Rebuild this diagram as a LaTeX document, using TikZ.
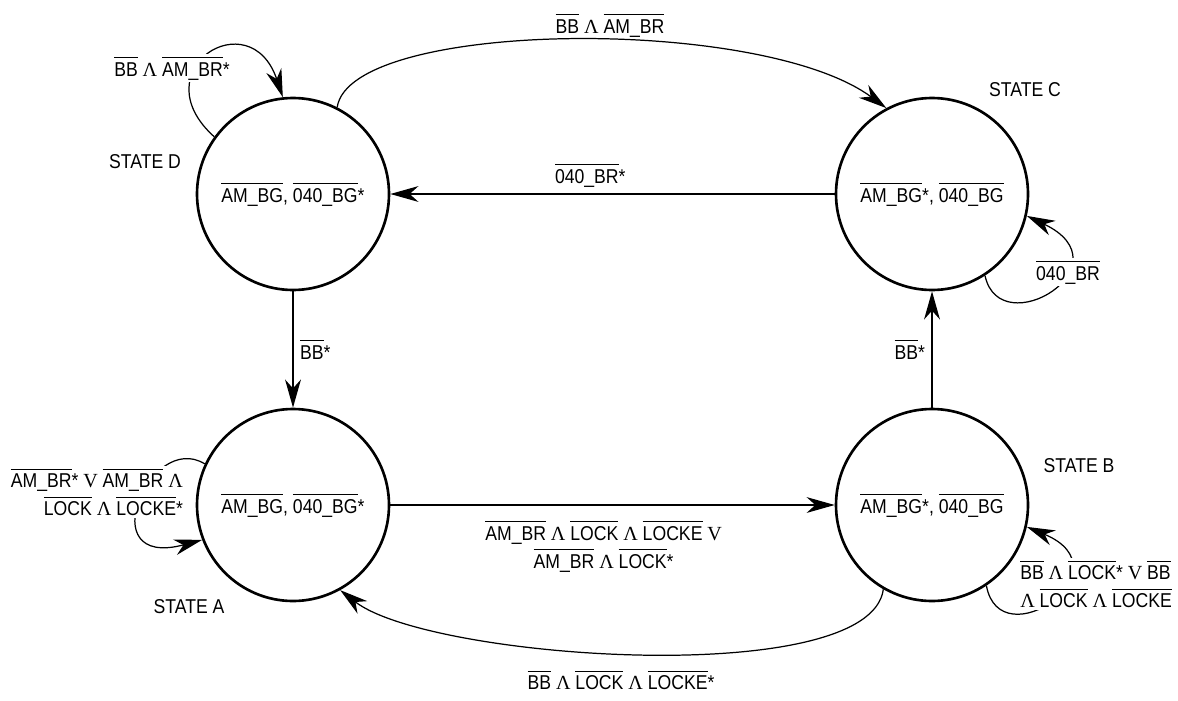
\documentclass[tikz,border=0pt]{standalone}
\usepackage{fontspec}
\setmainfont[FakeStretch=0.88]{Liberation Sans}
\newfontfamily\symserif{Liberation Serif}
\usetikzlibrary{arrows.meta}

\newcommand{\ovl}[1]{$\overline{\mbox{\rule{0pt}{9.4pt}#1}}$}
\newcommand{\andop}{{\symserif Λ}}
\newcommand{\orop}{{\symserif V}}

\tikzset{
  state/.style={circle, draw, line width=1.5pt, minimum size=3.84cm, inner sep=0pt},
  head/.style={-{Stealth[length=16pt,width=9pt,inset=5pt]}},
  thinarc/.style={head, line width=0.7pt},
  thickarc/.style={head, line width=1.3pt},
  cond/.style={fill=white, inner sep=1pt},
}

\begin{document}
\begin{tikzpicture}[every node/.style={font=\fontsize{11.4}{16}\selectfont}]
    \useasboundingbox (0,0) rectangle (23.56,-14);

    % States
    \node[state] (D) at (5.86,-3.88) {\ovl{AM\_BG}, \ovl{040\_BG}*};
    \node[state] (C) at (18.64,-3.88) {\ovl{AM\_BG}*, \ovl{040\_BG}};
    \node[state] (A) at (5.86,-10.1) {\ovl{AM\_BG}, \ovl{040\_BG}*};
    \node[state] (B) at (18.64,-10.1) {\ovl{AM\_BG}*, \ovl{040\_BG}};

    % State names
    \node (nameD) at (2.9,-3.24) {STATE D};
    \node (nameC) at (20.5,-1.8) {STATE C};
    \node (nameA) at (3.78,-12.14) {STATE A};
    \node (nameB) at (21.58,-9.32) {STATE B};

    % Transitions between states
    \draw[thinarc] (D.63) .. controls (7.0,-0.4) and (15.2,-0.3) .. (C.118);
    \node (topcond) at (12.2,-0.5) {\ovl{BB} \andop{} \ovl{AM\_BR}};

    \draw[thinarc] (C) -- (D) node[pos=0.55, above] (backcond) {\ovl{040\_BR}*};
    \draw[thickarc] (D) -- (A) node[midway, right] (downcond) {\ovl{BB}*};
    \draw[thickarc] (B) -- (C) node[midway, left] (upcond) {\ovl{BB}*};

    \draw[thinarc] (A) -- (B) node[pos=0.48, below=5pt, align=center] (acrosscond)
        {\ovl{AM\_BR} \andop{} \ovl{LOCK} \andop{} \ovl{LOCKE} \orop\\
         \ovl{AM\_BR} \andop{} \ovl{LOCK}*};

    \draw[thinarc] (B.-120) .. controls (17.4,-13.8) and (8.6,-13.2) .. (A.-61);
    \node (botcond) at (12.42,-13.6) {\ovl{BB} \andop{} \ovl{LOCK} \andop{} \ovl{LOCKE}*};

    % Self loops
    \draw[thinarc] (D.144) .. controls (2.8,-1.4) and (5.0,0) .. (D.96);
    \node[cond] (loopD) at (3.44,-1.36) {\ovl{BB} \andop{} \ovl{AM\_BR}*};

    \draw[thinarc] (C.-57) .. controls (20.0,-6.9) and (22.6,-5.3) .. (C.-13);
    \node[cond] (loopC) at (21.36,-5.44) {\ovl{040\_BR}};

    \draw[thinarc] (B.-56) .. controls (20.0,-13.2) and (22.6,-11.4) .. (B.-13);
    \node[cond, align=left] (loopB) at (21.92,-11.68)
        {\ovl{BB} \andop{} \ovl{LOCK}* \orop{} \ovl{BB}\\
         \andop{} \ovl{LOCK} \andop{} \ovl{LOCKE}};

    \draw[thinarc] (A.155) .. controls (3.0,-8.6) and (1.8,-11.4) .. (A.201);
    \node[cond, align=right, anchor=east] (loopA) at (3.7,-9.84)
        {\ovl{AM\_BR}* \orop{} \ovl{AM\_BR} \andop\\
         \ovl{LOCK} \andop{} \ovl{LOCKE}*};
\end{tikzpicture}
\end{document}
